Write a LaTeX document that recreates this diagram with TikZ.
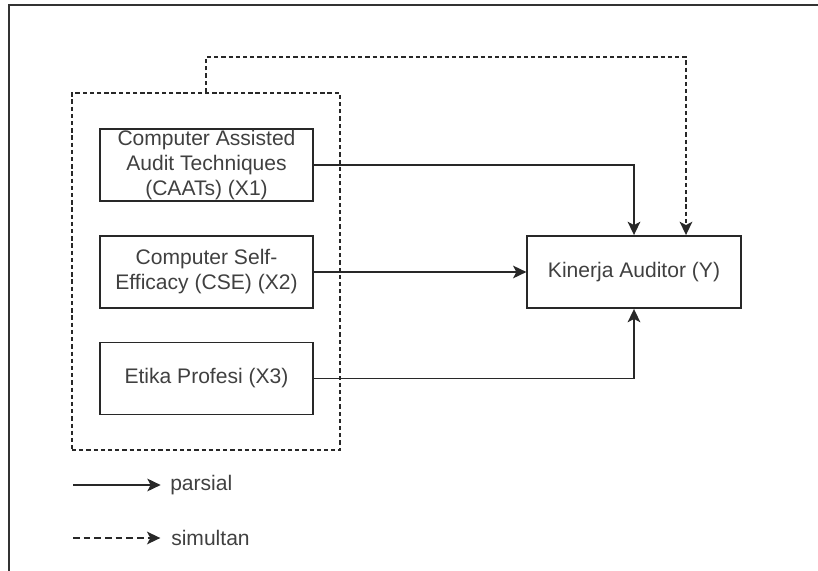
\documentclass[tikz,border=0pt]{standalone}
\usepackage{fontspec}
\setmainfont{Liberation Sans}
\definecolor{TextGray}{RGB}{64, 64, 64}
\definecolor{LineGray}{RGB}{40, 40, 40}
\usetikzlibrary{arrows.meta, positioning, calc}

\begin{document}
\begin{tikzpicture}[x=0.75pt, y=-0.75pt,
                var/.style={draw=LineGray, line width=1.4pt, rectangle, minimum width=160pt, minimum height=54pt, inner sep=0pt, align=center, text=TextGray, font=\fontsize{15.8pt}{18.75pt}\selectfont},
                group/.style={draw=LineGray, line width=1.2pt, dash pattern=on 3.2pt off 2.2pt, rectangle, minimum width=201pt, minimum height=268pt, inner sep=0pt},
                legend/.style={anchor=west, inner sep=0pt, text=TextGray, font=\fontsize{15.8pt}{18.75pt}\selectfont},
                parsial/.style={-{Stealth[length=10pt, width=9.5pt, inset=2.5pt]}, line width=1.4pt, LineGray},
                simul/.style={-{Stealth[length=10pt, width=9.5pt, inset=2.5pt]}, line width=1.2pt, dash pattern=on 3.2pt off 2.2pt, LineGray}]

                \useasboundingbox (0,0) rectangle (818,571);

                % Frame of the screenshot
                \draw[line width=2.2pt, black!80] (9,571) -- (9,5) -- (818,5);

                % Independent variables
                \node[group] (grp) at (206,271.5) {};
                \node[var] (x1) at (206.5,165) {Computer Assisted\\Audit Techniques\\(CAATs) (X1)};
                \node[var] (x2) at (206.5,272) {Computer Self-\\Efficacy (CSE) (X2)};
                \node[var] (x3) at (206.5,378.5) {Etika Profesi (X3)};

                % Dependent variable
                \node[var] (kin) at (634,272) {Kinerja Auditor (Y)};

                % Edges
                \draw[parsial] (x1.east) -| (kin.north);
                \draw[parsial] (x2.east) -- (kin.west);
                \draw[parsial] (x3.east) -| (kin.south);
                \draw[simul] (grp.north) -- ++(0,-35) -| ([xshift=39pt]kin.north);

                % Legend
                \coordinate (lp) at (73,485);
                \coordinate (ls) at (73,538);
                \node[legend] (tp) at (170,485) {parsial};
                \node[legend] (ts) at (171,538) {simultan};
                \draw[parsial] (lp) -- ([xshift=-7pt]tp.west);
                \draw[simul, dash pattern=on 5pt off 3pt] (ls) -- ([xshift=-8pt]ts.west);
            \end{tikzpicture}
\end{document}
